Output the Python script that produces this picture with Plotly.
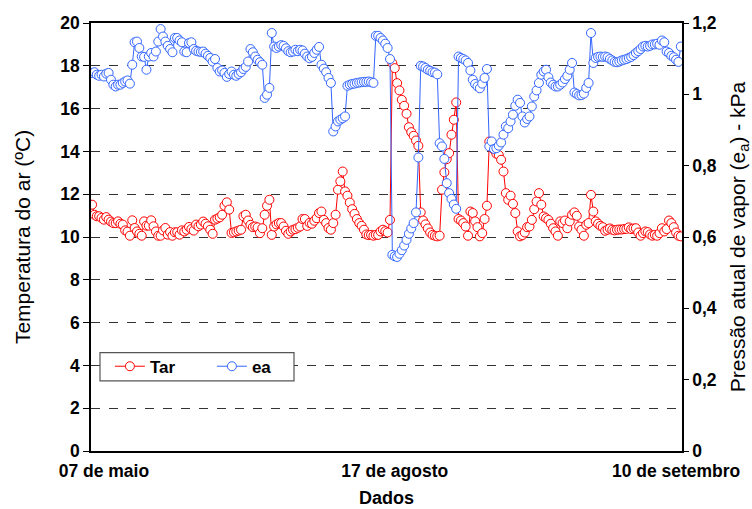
import plotly.graph_objects as go

tar = [
 11.51, 11.04, 10.97, 10.97, 10.89, 10.81, 10.93, 10.81, 10.72, 10.65,
 10.65, 10.73, 10.62, 10.58, 10.31, 10.25, 10.06, 10.78, 10.42, 10.26,
 10.15, 10.06, 10.73, 10.53, 10.53, 10.78, 10.50, 10.26, 10.06, 10.06,
 10.31, 10.42, 10.11, 10.23, 10.06, 10.22, 10.22, 10.11, 10.31, 10.26,
 10.34, 10.47, 10.37, 10.30, 10.58, 10.50, 10.58, 10.72, 10.62, 10.50,
 10.34, 10.15, 10.81, 10.86, 10.92, 11.04, 11.46, 11.62, 11.28, 10.19,
 10.22, 10.26, 10.30, 10.34, 10.97, 11.04, 10.77, 10.57, 10.46, 10.49,
 10.45, 10.18, 10.41, 11.04, 11.46, 11.74, 10.10, 10.49, 10.59, 10.65,
 10.65, 10.49, 10.29, 10.15, 10.26, 10.34, 10.37, 10.43, 10.49, 10.84,
 10.84, 10.52, 10.66, 10.62, 10.76, 10.88, 11.12, 11.19, 10.80, 10.65,
 10.42, 10.34, 10.65, 11.04, 12.21, 12.60, 13.06, 12.13, 11.93, 11.61,
 11.30, 11.08, 10.84, 10.65, 10.52, 10.34, 10.12, 10.09, 10.10, 10.06,
 10.10, 10.10, 10.26, 10.34, 10.27, 10.21, 10.80, 18.12, 17.89, 17.19,
 16.85, 16.41, 16.13, 15.76, 15.13, 14.90, 14.73, 14.51, 14.26, 11.15,
 10.77, 10.59, 10.40, 10.21, 10.10, 10.06, 10.03, 10.06, 12.21, 13.02,
 13.64, 13.92, 14.78, 15.48, 16.29, 10.84, 10.77, 10.65, 10.49, 10.06,
 11.19, 11.12, 10.73, 10.46, 10.03, 10.18, 10.84, 11.46, 14.46, 14.31,
 14.08, 13.89, 13.83, 13.61, 13.06, 12.05, 11.74, 11.93, 11.55, 11.12,
 10.26, 10.03, 10.09, 10.21, 10.46, 10.49, 10.80, 11.30, 11.66, 12.05,
 11.51, 10.96, 10.88, 10.80, 10.62, 10.41, 10.26, 10.06, 10.73, 10.65,
 10.77, 10.41, 10.73, 11.04, 11.15, 10.99, 10.49, 10.34, 10.06, 10.57,
 10.65, 11.97, 11.19, 10.73, 10.62, 10.52, 10.46, 10.29, 10.34, 10.40,
 10.34, 10.31, 10.34, 10.35, 10.35, 10.37, 10.38, 10.45, 10.37, 10.40,
 10.41, 10.21, 10.06, 10.18, 10.26, 10.23, 10.12, 10.06, 10.10, 10.06,
 10.18, 10.41, 10.26, 10.37, 10.77, 10.65, 10.46, 10.21, 10.06, 10.03,
]

ea = [
 1.060, 1.062, 1.055, 1.052, 1.055, 1.050, 1.058, 1.060, 1.041, 1.027,
 1.022, 1.027, 1.027, 1.032, 1.036, 1.039, 1.030, 1.083, 1.146, 1.148,
 1.130, 1.106, 1.105, 1.069, 1.106, 1.116, 1.106, 1.120, 1.148, 1.183,
 1.162, 1.148, 1.136, 1.127, 1.118, 1.158, 1.158, 1.151, 1.146, 1.120,
 1.118, 1.144, 1.146, 1.127, 1.122, 1.120, 1.119, 1.120, 1.114, 1.108,
 1.102, 1.092, 1.099, 1.074, 1.064, 1.067, 1.060, 1.049, 1.057, 1.064,
 1.055, 1.052, 1.057, 1.062, 1.071, 1.077, 1.092, 1.127, 1.118, 1.106,
 1.097, 1.090, 1.083, 0.990, 0.999, 1.018, 1.172, 1.134, 1.130, 1.134,
 1.138, 1.136, 1.129, 1.121, 1.118, 1.120, 1.125, 1.121, 1.125, 1.123,
 1.114, 1.106, 1.101, 1.105, 1.116, 1.125, 1.133, 1.083, 1.072, 1.062,
 1.046, 1.032, 0.896, 0.910, 0.924, 0.929, 0.933, 0.938, 1.024, 1.027,
 1.029, 1.030, 1.032, 1.033, 1.034, 1.035, 1.035, 1.036, 1.034, 1.032,
 1.164, 1.164, 1.158, 1.151, 1.142, 1.130, 1.099, 0.550, 0.546, 0.544,
 0.553, 0.563, 0.576, 0.592, 0.609, 0.624, 0.639, 0.669, 0.823, 1.080,
 1.078, 1.074, 1.069, 1.066, 1.062, 1.061, 1.056, 0.863, 0.854, 0.819,
 0.751, 0.723, 0.707, 0.691, 0.679, 1.106, 1.102, 1.099, 1.095, 1.088,
 1.067, 1.041, 1.029, 1.022, 1.017, 1.030, 1.046, 1.071, 0.854, 0.868,
 0.847, 0.849, 0.856, 0.865, 0.887, 0.910, 0.905, 0.924, 0.943, 0.968,
 0.985, 0.976, 0.938, 0.921, 0.931, 0.938, 0.966, 0.994, 1.011, 1.032,
 1.055, 1.064, 1.069, 1.048, 1.033, 1.027, 1.022, 1.022, 1.027, 1.033,
 1.043, 1.052, 1.069, 1.088, 1.005, 1.001, 0.997, 0.998, 1.002, 1.018,
 1.032, 1.172, 1.088, 1.102, 1.105, 1.106, 1.105, 1.106, 1.104, 1.099,
 1.095, 1.091, 1.090, 1.092, 1.095, 1.097, 1.099, 1.102, 1.105, 1.110,
 1.116, 1.121, 1.127, 1.134, 1.136, 1.134, 1.136, 1.140, 1.140, 1.142,
 1.139, 1.151, 1.146, 1.120, 1.116, 1.108, 1.104, 1.097, 1.091, 1.134,
]

x_tick_pos = [5, 128, 247]
x_tick_labels = ["07 de maio", "17 de agosto", "10 de setembro"]
y1_ticks = [0, 2, 4, 6, 8, 10, 12, 14, 16, 18, 20]
y2_ticks = [0, 0.2, 0.4, 0.6, 0.8, 1.0, 1.2]
y2_labels = ["0", "0,2", "0,4", "0,6", "0,8", "1", "1,2"]

idx = list(range(len(tar)))
FONT = "Liberation Sans, Arial, sans-serif"

fig = go.Figure()
fig.add_trace(go.Scatter(
    x=idx, y=tar, name="Tar", mode="lines+markers",
    line=dict(color="#FF0000", width=1),
    marker=dict(symbol="circle", size=9, color="white",
                line=dict(color="#FF0000", width=1)),
))
fig.add_trace(go.Scatter(
    x=idx, y=ea, name="ea", mode="lines+markers", yaxis="y2",
    line=dict(color="#3366FF", width=1),
    marker=dict(symbol="circle", size=9, color="white",
                line=dict(color="#3366FF", width=1)),
))

# legend frame (paper coordinates)
fig.add_shape(type="rect", xref="paper", yref="paper",
              x0=0.0152, x1=0.3435, y0=0.164, y1=0.2297,
              line=dict(color="#555555", width=1.2), fillcolor="white", layer="above")

fig.update_layout(
    width=752, height=509,
    margin=dict(l=91, r=70, t=23, b=58),
    paper_bgcolor="white", plot_bgcolor="white",
    font=dict(family=FONT, color="black"),
    showlegend=True,
    legend=dict(
        orientation="h", x=0.032, y=0.197, xanchor="left", yanchor="middle",
        bgcolor="rgba(0,0,0,0)", borderwidth=0,
        font=dict(family=FONT, size=17, color="black", weight="bold"),
        entrywidth=57, itemwidth=30,
    ),
    xaxis=dict(
        range=[-0.45, 249.5], automargin=False,
        tickmode="array", tickvals=x_tick_pos, ticktext=x_tick_labels,
        tickfont=dict(family=FONT, size=17.5, weight="bold"),
        showgrid=False, zeroline=False,
        showline=True, linecolor="black", linewidth=1.5, mirror=True,
        ticks="outside", ticklen=3, tickcolor="rgba(0,0,0,0)",
        title=dict(text="Dados", font=dict(family=FONT, size=18, weight="bold"), standoff=12),
    ),
    yaxis=dict(
        range=[0, 20], tickmode="array", tickvals=y1_ticks, automargin=False,
        tickfont=dict(family=FONT, size=17.5, weight="bold"),
        showgrid=True, gridcolor="#333333", griddash="dash", gridwidth=1,
        zeroline=False,
        showline=True, linecolor="black", linewidth=1.5, mirror=True,
        ticks="outside", ticklen=6, tickcolor="black",
        title=dict(text="Temperatura do ar (ºC)", font=dict(family=FONT, size=21), standoff=24),
    ),
    yaxis2=dict(
        range=[0, 1.2], overlaying="y", side="right", automargin=False,
        tickmode="array", tickvals=y2_ticks, ticktext=y2_labels,
        tickfont=dict(family=FONT, size=17.5, weight="bold"),
        showgrid=False, zeroline=False,
        showline=True, linecolor="black", linewidth=1.5,
        ticks="outside", ticklen=5, tickcolor="black",
        title=dict(text="Pressão atual de vapor (e<sub>a</sub>) - kPa", font=dict(family=FONT, size=21), standoff=14),
    ),
)

fig.write_html("out.html")
